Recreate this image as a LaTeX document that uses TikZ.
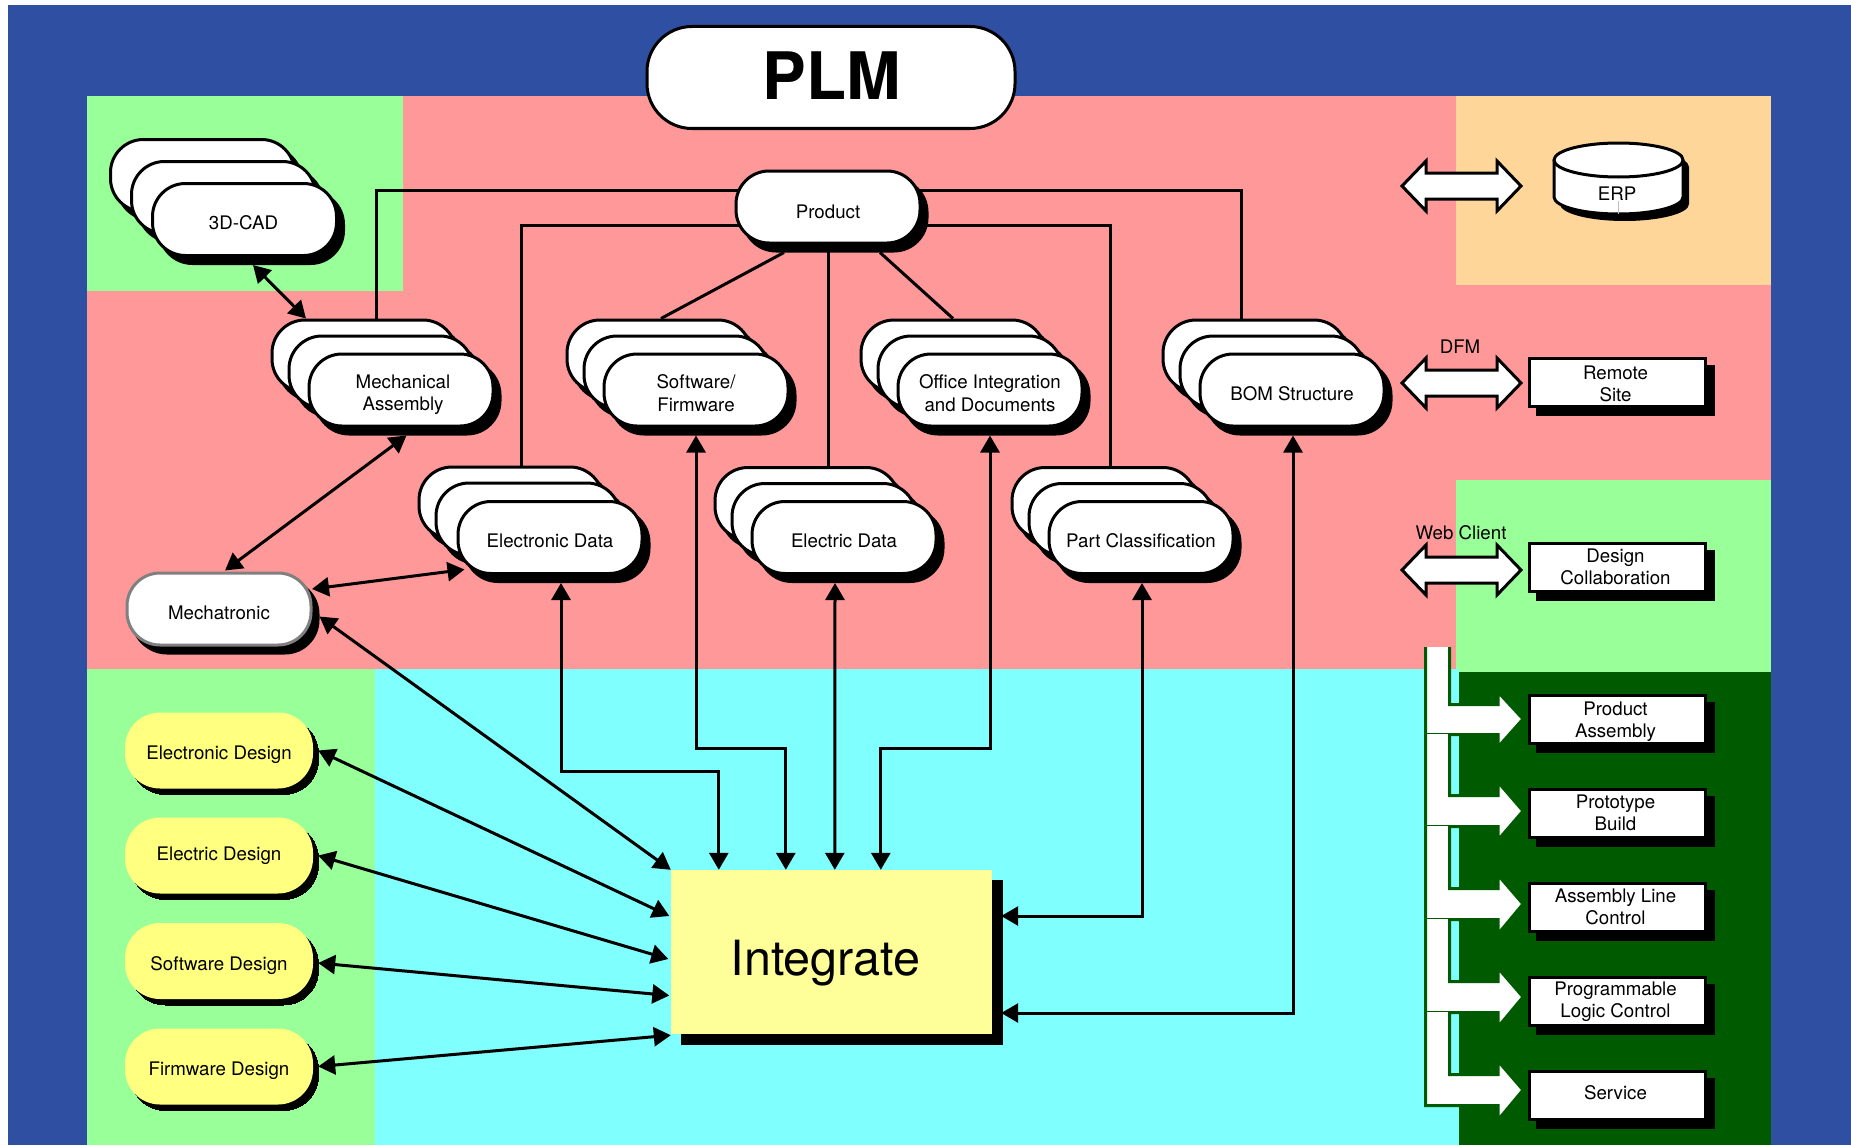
\documentclass[tikz,border=0pt]{standalone}
\usepackage{fontspec}
\setmainfont{TeX Gyre Heros}
\usetikzlibrary{shadows,arrows.meta,calc}
\pgfdeclarelayer{regions}\pgfdeclarelayer{lines}
\pgfsetlayers{regions,lines,main}
\definecolor{bgblue}{HTML}{2F4FA2}
\definecolor{rpink}{HTML}{FF9999}
\definecolor{rgreen}{HTML}{99FF99}
\definecolor{rcyan}{HTML}{80FFFF}
\definecolor{rorange}{HTML}{FFD699}
\definecolor{rdark}{HTML}{005A00}
\definecolor{ryellow}{HTML}{FFFF80}
\definecolor{rint}{HTML}{FFFF99}
\tikzset{
  x=1pt,y=-1pt,
  every node/.style={font=\fontsize{18.7}{22}\selectfont,text=black,align=center,inner sep=0pt},
  tx/.style n args={3}{label={[xshift=#1,yshift=#2]center:{#3}}},
  pill/.style={rectangle,rounded corners=33pt,draw=black,fill=white,line width=3pt,minimum width=184pt,minimum height=72pt,
    copy shadow={shadow xshift=7pt,shadow yshift=-8pt,fill=black,draw=black}},
  ypill/.style={rectangle,rounded corners=35pt,fill=ryellow,minimum width=188pt,minimum height=76pt,
    copy shadow={shadow xshift=5.5pt,shadow yshift=-6pt,fill=black,draw=black,line width=0pt}},
  gpill/.style={pill,draw=black!50,copy shadow={shadow xshift=5.5pt,shadow yshift=-7pt,fill=black,draw=black}},
  sbox/.style={rectangle,draw=black,fill=white,line width=3pt,minimum width=176pt,minimum height=48pt,
    copy shadow={shadow xshift=8pt,shadow yshift=-8pt,fill=black,draw=black}},
  link/.style={draw=black,line width=3pt},
  dlink/.style={link,{Triangle[length=17pt,width=19pt]}-{Triangle[length=17pt,width=19pt]}},
  wide/.style={draw=black,fill=white,line width=3pt,miter limit=10},
}
\newcommand{\pillstack}[5][0pt]{% [text dx], name, cx, cy, text dy, text
  \node[pill] (#2-b) at (#3-37,#4-34) {};
  \node[pill] (#2-m) at (#3-20,#4-18) {};
  \node[pill,tx={#1}{#5}{\stacktext}] (#2) at (#3,#4) {};
}
\newcommand{\dblarrow}[1]{%
  \draw[wide] (1402,#1) -- (1426,#1-25) -- (1426,#1-13) -- (1497,#1-13) -- (1497,#1-25) -- (1521,#1)
    -- (1497,#1+25) -- (1497,#1+13) -- (1426,#1+13) -- (1426,#1+25) -- cycle;
}
\newcommand{\larrow}[6]{% prev bottom, shaft top, shaft bottom, head top, head bottom, tip y
  \fill[white] (1425.5,#1) -- (1449.5,#1) -- (1449.5,#2-1.5) -- (1498,#2-1.5) -- (1498,#4-3) -- (1523,#6) -- (1498,#5+3) -- (1498,#3+1.5) -- (1425.5,#3+1.5) -- cycle;
  \draw[rdark,line width=3pt] (1449.5,#1) -- (1449.5,#2-1.5) -- (1498,#2-1.5) -- (1498,#4-3) -- (1523,#6) -- (1498,#5+3) -- (1498,#3+1.5) -- (1425.5,#3+1.5) -- (1425.5,#1);
}
\begin{document}
\begin{tikzpicture}
\useasboundingbox (0,0) rectangle (1851,1145);
\begin{pgfonlayer}{regions}
  \fill[white] (0,0) rectangle (1851,1145);
  \fill[bgblue] (8,5) rectangle (1851,1145);
  \fill[rpink] (87,96) rectangle (1771,669);
  \fill[rgreen] (87,96) rectangle (403,291);
  \fill[rorange] (1456,96) rectangle (1771,285);
  \fill[rgreen] (1456,480) rectangle (1771,672);
  \fill[rgreen] (87,669) rectangle (375,1145);
  \fill[rcyan] (375,669) rectangle (1459,1145);
  \fill[rdark] (1459,672) rectangle (1771,1145);
\end{pgfonlayer}

% nodes
\node[rectangle,rounded corners=45pt,draw=black,fill=white,line width=3pt,minimum width=368pt,minimum height=102pt,
  label={[yshift=1.5pt,xshift=0.5pt,font=\fontsize{65.5}{70}\selectfont\bfseries]center:PLM}] (plm) at (831,77.5) {};
\node[pill] (cad-b) at (244.5-42,219.5-44) {};
\node[pill] (cad-m) at (244.5-21,219.5-22) {};
\node[pill,tx={-1pt}{-3.5pt}{3D-CAD}] (cad) at (244.5,219.5) {};
\node[pill,tx={0pt}{-4.5pt}{Product}] (product) at (828,207) {};
\def\stacktext{Mechanical\\Assembly}\pillstack[2pt]{mech}{401}{390}{-4.5pt}{}
\def\stacktext{Software/\\[1.5pt]Firmware}\pillstack{soft}{696}{390}{-3pt}{}
\def\stacktext{Office Integration\\[1.5pt]and Documents}\pillstack{office}{990}{390}{-3pt}{}
\def\stacktext{BOM Structure}\pillstack{bom}{1292}{390}{-3.5pt}{}
\node[pill] (edata-b) at (550-39,537.5-34.5) {};
\node[pill] (edata-m) at (550-22,537.5-18.5) {};
\node[pill,tx={0pt}{-3.5pt}{Electronic Data}] (edata) at (550,537.5) {};
\def\stacktext{Electric Data}\pillstack{eldata}{844}{537.5}{-3.5pt}{}
\def\stacktext{Part Classification}\pillstack{part}{1141}{537.5}{-3.5pt}{}
\node[gpill,tx={0pt}{-3.5pt}{Mechatronic}] (mechatronic) at (219,609) {};
\node[ypill,tx={0pt}{-4.5pt}{Electronic Design}] (eldesign) at (219,750.5) {};
\node[ypill,tx={0pt}{0pt}{Electric Design}] (ecdesign) at (219,855.5) {};
\node[ypill,tx={0pt}{-4.5pt}{Software Design}] (swdesign) at (219,961) {};
\node[ypill,tx={0pt}{-4.5pt}{Firmware Design}] (fwdesign) at (219,1066.5) {};
\node[rectangle,fill=rint,minimum width=321pt,minimum height=164pt,
  copy shadow={shadow xshift=10pt,shadow yshift=-10pt,fill=black,draw=black,line width=0pt},
  label={[xshift=-6pt,yshift=-11pt,font=\fontsize{48.5}{52}\selectfont]center:Integrate}] (integrate) at (831.5,952) {};

% tree lines behind the nodes
\begin{pgfonlayer}{lines}
  \draw[link] ($(product.west)+(10,-17)$) -| ($(mech-b.north)+(12,0)$);
  \draw[link] ($(product.west)+(10,18)$) -| ($(edata-b.north)+(10,0)$);
  \draw[link] ($(product.south)+(-44,8)$) -- ($(soft-b.north)+(2,0)$);
  \draw[link] (product.south) -- ($(eldata-b.north)+(21,0)$);
  \draw[link] ($(product.south)+(52,8)$) -- (office-b.north);
  \draw[link] ($(product.east)+(-10,18)$) -| ($(part-b.north)+(6,0)$);
  \draw[link] ($(product.east)+(-10,-17)$) -| ($(bom-b.north)+(-14,0)$);
\end{pgfonlayer}

% connectors with arrowheads
\draw[dlink] ($(cad.south)+(8.5,8)$) -- ($(mech-b.north)+(-58,0)$);
\draw[dlink] ($(mech.south)+(5.5,8)$) -- ($(mechatronic.north)+(6,-1)$);
\draw[dlink] ($(mechatronic.east)+(-0.5,-20)$) -- ($(edata.west)+(8,32)$);
\draw[dlink] ($(mechatronic.east)+(7,7.5)$) -- (integrate.north west);
\draw[dlink] ($(eldesign.east)+(5,0)$) -- ($(integrate.west)+(-1.5,-36)$);
\draw[dlink] ($(ecdesign.east)+(5,0)$) -- ($(integrate.west)+(-2.5,7)$);
\draw[dlink] ($(swdesign.east)+(5,2)$) -- ($(integrate.west)+(-1.5,43.5)$);
\draw[dlink] ($(fwdesign.east)+(5,0)$) -- ($(integrate.south west)+(0,1)$);
\draw[dlink] ($(edata.south)+(11,8)$) -- ++(0,188) -| ($(integrate.north west)+(48,0)$);
\draw[dlink] ($(soft.south)+(0,8)$) -- ++(0,313) -| ($(integrate.north west)+(115,0)$);
\draw[dlink] ($(eldata.south)+(-9,8)$) -- ($(integrate.north west)+(164,0)$);
\draw[dlink] ($(office.south)+(0,8)$) -- ++(0,313) -| ($(integrate.north west)+(210,0)$);
\draw[dlink] ($(part.south)+(1,8)$) |- ($(integrate.east)+(9,-36)$);
\draw[dlink] ($(bom.south)+(1,8)$) |- ($(integrate.east)+(9,61)$);

% ERP
\begin{scope}[shift={(6,7)}]
  \fill[black] (1554,160) -- (1554,197) arc[start angle=180,end angle=360,x radius=64.5pt,y radius=17pt] -- (1683,160) -- cycle;
  \fill[black] (1618.5,160) ellipse[x radius=64.5pt,y radius=17pt];
\end{scope}
\filldraw[fill=white,draw=black,line width=3pt] (1554,160) -- (1554,197) arc[start angle=180,end angle=360,x radius=64.5pt,y radius=17pt] -- (1683,160);
\filldraw[fill=white,draw=black,line width=3pt] (1618.5,160) ellipse[x radius=64.5pt,y radius=17pt];
\draw[black!25,line width=0.7pt] (1618,201) -- (1618,214);
\node (erp) at (1617,194) {ERP};

% wide double arrows
\dblarrow{186}
\dblarrow{383}
\dblarrow{570}
\node (dfm) at (1460,347) {DFM};
\node (web) at (1461,533) {Web Client};

% boxes
\node[sbox,tx={-2pt}{-1pt}{Remote\\Site}] (remote) at (1617.5,382.6) {};
\node[sbox,tx={-2pt}{0.5pt}{Design\\Collaboration}] (collab) at (1617.5,567) {};
\node[sbox,tx={-2pt}{-2pt}{Product\\Assembly}] (passy) at (1617.5,719.5) {};
\node[sbox,tx={-2pt}{0pt}{Prototype\\Build}] (proto) at (1617.5,813) {};
\node[sbox,tx={-2pt}{0pt}{Assembly Line\\Control}] (aline) at (1617.5,907) {};
\node[sbox,tx={-2pt}{-1pt}{Programmable\\Logic Control}] (plc) at (1617.5,1001) {};
\node[sbox,tx={-2pt}{2pt}{Service}] (service) at (1617.5,1095) {};

% branching bus arrows
\larrow{647}{706}{733}{695}{744}{719}
\larrow{734}{797}{825}{785}{837}{811}
\larrow{826}{890}{918}{878}{931}{904}
\larrow{919}{983}{1011}{971}{1024}{997}
\larrow{1012}{1076}{1104}{1064}{1117}{1090}
\end{tikzpicture}
\end{document}
